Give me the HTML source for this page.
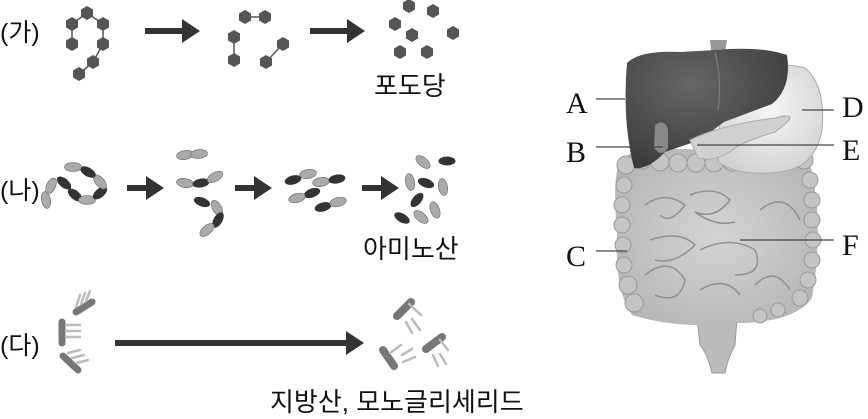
<!DOCTYPE html>
<html><head><meta charset="utf-8"><style>
html,body{margin:0;padding:0;background:#fff;}
svg{display:block;}
.k{font-family:"Liberation Sans","Noto Sans CJK KR",sans-serif;fill:#111;}
.s{font-family:"Liberation Serif",serif;fill:#111;font-size:30px;}
</style></head><body>
<svg width="868" height="419" viewBox="0 0 868 419" xmlns="http://www.w3.org/2000/svg">
<defs>
<polygon id="h" points="0,-7 6,-3.5 6,3.5 0,7 -6,3.5 -6,-3.5" fill="#555"/>
<ellipse id="el" rx="8.5" ry="4.5" fill="#aaa" stroke="#666" stroke-width="0.6"/>
<ellipse id="ed" rx="8.5" ry="4.5" fill="#333"/>
<marker id="ar" markerWidth="4" markerHeight="4" refX="1" refY="2" orient="auto" markerUnits="strokeWidth"><path d="M0,0 L3,2 L0,4Z" fill="#333"/></marker>
<radialGradient id="lv" cx="0.4" cy="0.3" r="0.8"><stop offset="0" stop-color="#666"/><stop offset="1" stop-color="#383838"/></radialGradient>
<radialGradient id="st" cx="0.5" cy="0.4" r="0.7"><stop offset="0" stop-color="#f6f6f6"/><stop offset="1" stop-color="#cfcfcf"/></radialGradient>
<radialGradient id="in" cx="0.5" cy="0.5" r="0.7"><stop offset="0" stop-color="#d4d4d4"/><stop offset="1" stop-color="#b0b0b0"/></radialGradient>
</defs>

<!-- (가) -->
<text class="k" x="0" y="41" font-size="25">(가)</text>
<g stroke="#555" stroke-width="1.5">
<line x1="87" y1="13" x2="72" y2="24"/><line x1="87" y1="13" x2="103" y2="24"/>
<line x1="72" y1="24" x2="72" y2="44"/><line x1="103" y1="24" x2="103" y2="44"/>
<line x1="103" y1="44" x2="93" y2="62"/><line x1="93" y1="62" x2="79" y2="74"/>
<line x1="245" y1="17" x2="265" y2="17"/><line x1="234" y1="37" x2="234" y2="60"/>
<line x1="283" y1="44" x2="266" y2="62"/>
</g>
<use href="#h" x="87" y="13"/><use href="#h" x="72" y="24"/><use href="#h" x="103" y="24"/>
<use href="#h" x="72" y="44"/><use href="#h" x="103" y="44"/><use href="#h" x="93" y="62"/><use href="#h" x="79" y="74"/>
<use href="#h" x="245" y="17"/><use href="#h" x="265" y="17"/><use href="#h" x="234" y="37"/><use href="#h" x="234" y="60"/>
<use href="#h" x="283" y="44"/><use href="#h" x="266" y="62"/>
<use href="#h" x="409" y="6"/><use href="#h" x="433" y="11"/><use href="#h" x="395" y="24"/><use href="#h" x="412" y="35"/>
<use href="#h" x="453" y="33"/><use href="#h" x="400" y="52"/><use href="#h" x="427" y="52"/>
<line x1="145" y1="31" x2="188" y2="31" stroke="#333" stroke-width="6" marker-end="url(#ar)"/>
<line x1="310" y1="31" x2="353" y2="31" stroke="#333" stroke-width="6" marker-end="url(#ar)"/>
<text class="k" x="374" y="95" font-size="26">포도당</text>

<!-- (나) -->
<text class="k" x="0" y="199" font-size="25">(나)</text>
<use href="#el" transform="translate(46,200) rotate(80)"/>
<use href="#el" transform="translate(51,186) rotate(-65)"/>
<use href="#ed" transform="translate(64,183) rotate(40)"/>
<use href="#ed" transform="translate(75,195) rotate(40)"/>
<use href="#el" transform="translate(87,200)"/>
<use href="#ed" transform="translate(100,193) rotate(-40)"/>
<use href="#el" transform="translate(100,182) rotate(50)"/>
<use href="#ed" transform="translate(88,172) rotate(30)"/>
<use href="#el" transform="translate(73,167)"/>
<line x1="127" y1="188" x2="152" y2="188" stroke="#333" stroke-width="6" marker-end="url(#ar)"/>
<use href="#el" transform="translate(185,155) rotate(-10)"/>
<use href="#el" transform="translate(199,154) rotate(-5)"/>
<use href="#el" transform="translate(185,183) rotate(10)"/>
<use href="#ed" transform="translate(201,183) rotate(-10)"/>
<use href="#el" transform="translate(215,177) rotate(-30)"/>
<use href="#ed" transform="translate(202,202) rotate(20)"/>
<use href="#el" transform="translate(217,208) rotate(60)"/>
<use href="#ed" transform="translate(218,220) rotate(-60)"/>
<use href="#el" transform="translate(207,230) rotate(-40)"/>
<line x1="235" y1="188" x2="260" y2="188" stroke="#333" stroke-width="6" marker-end="url(#ar)"/>
<use href="#ed" transform="translate(293,180) rotate(-15)"/>
<use href="#el" transform="translate(308,174) rotate(-10)"/>
<use href="#el" transform="translate(321,182) rotate(-10)"/>
<use href="#ed" transform="translate(337,179) rotate(-10)"/>
<use href="#ed" transform="translate(312,193) rotate(-20)"/>
<use href="#el" transform="translate(297,198) rotate(-15)"/>
<use href="#ed" transform="translate(323,207) rotate(-15)"/>
<use href="#el" transform="translate(338,202) rotate(-15)"/>
<line x1="362" y1="188" x2="387" y2="188" stroke="#333" stroke-width="6" marker-end="url(#ar)"/>
<use href="#el" transform="translate(423,162) rotate(40)"/>
<use href="#ed" transform="translate(447,161)"/>
<use href="#el" transform="translate(410,182) rotate(80)"/>
<use href="#ed" transform="translate(426,183) rotate(20)"/>
<use href="#el" transform="translate(443,187) rotate(80)"/>
<use href="#ed" transform="translate(417,200) rotate(-50)"/>
<use href="#el" transform="translate(435,210) rotate(70)"/>
<use href="#ed" transform="translate(402,218) rotate(30)"/>
<use href="#el" transform="translate(421,217) rotate(40)"/>
<text class="k" x="363" y="258" font-size="26">아미노산</text>

<!-- (다) -->
<text class="k" x="0" y="354" font-size="25">(다)</text>
<g stroke-linecap="round">
<line x1="62" y1="322" x2="62" y2="343" stroke="#777" stroke-width="7"/>
<g stroke="#bbb" stroke-width="2.5"><line x1="66" y1="325" x2="80" y2="325"/><line x1="66" y1="331" x2="80" y2="331"/><line x1="66" y1="337" x2="80" y2="337"/></g>
<line x1="76" y1="312" x2="92" y2="302" stroke="#777" stroke-width="7"/>
<g stroke="#bbb" stroke-width="2.5"><line x1="76" y1="307" x2="80" y2="295"/><line x1="81" y1="304" x2="85" y2="293"/><line x1="86" y1="301" x2="90" y2="291"/></g>
<line x1="63" y1="356" x2="78" y2="370" stroke="#777" stroke-width="7"/>
<g stroke="#bbb" stroke-width="2.5"><line x1="68" y1="353" x2="80" y2="350"/><line x1="72" y1="358" x2="84" y2="355"/><line x1="77" y1="363" x2="88" y2="360"/></g>
<line x1="397" y1="316" x2="411" y2="302" stroke="#777" stroke-width="8"/>
<g stroke="#bbb" stroke-width="2.5"><line x1="409" y1="304" x2="421" y2="315"/><line x1="406" y1="322" x2="412" y2="333"/><line x1="412" y1="319" x2="420" y2="330"/></g>
<line x1="383" y1="350" x2="394" y2="366" stroke="#777" stroke-width="8"/>
<g stroke="#bbb" stroke-width="2.5"><line x1="390" y1="353" x2="401" y2="345"/><line x1="402" y1="355" x2="412" y2="349"/><line x1="403" y1="362" x2="415" y2="357"/></g>
<line x1="426" y1="349" x2="442" y2="337" stroke="#777" stroke-width="8"/>
<g stroke="#bbb" stroke-width="2.5"><line x1="440" y1="340" x2="448" y2="350"/><line x1="433" y1="355" x2="438" y2="366"/><line x1="440" y1="354" x2="446" y2="364"/></g>
</g>
<line x1="115" y1="343" x2="352" y2="343" stroke="#333" stroke-width="6" marker-end="url(#ar)"/>
<text class="k" x="270" y="411" font-size="26">지방산, 모노글리세리드</text>

<!-- organs -->
<path d="M710,40 L727,40 L724,60 L712,60Z" fill="#999"/>
<path d="M697,318 Q717,310 737,318 L735,345 Q727,360 725,373 L712,373 Q708,355 700,345Z" fill="#bbb" stroke="#999"/>
<path d="M620,160 Q612,180 617,230 Q614,290 632,315 Q680,330 740,323 Q795,322 812,298 Q822,240 815,190 Q815,162 795,152 L640,148Z" fill="url(#in)"/>
<g fill="#c4c4c4" stroke="#999" stroke-width="1">
<circle cx="626" cy="165" r="9"/><circle cx="642" cy="160" r="9"/><circle cx="660" cy="162" r="9"/><circle cx="678" cy="163" r="9"/><circle cx="696" cy="163" r="9"/><circle cx="714" cy="163" r="9"/><circle cx="732" cy="162" r="9"/><circle cx="750" cy="160" r="9"/><circle cx="768" cy="157" r="9"/><circle cx="786" cy="155" r="9"/><circle cx="804" cy="160" r="9"/>
<circle cx="624" cy="185" r="8"/><circle cx="622" cy="205" r="8"/><circle cx="622" cy="225" r="8"/><circle cx="623" cy="245" r="8"/><circle cx="624" cy="265" r="8"/><circle cx="628" cy="285" r="9"/><circle cx="634" cy="303" r="9"/>
<circle cx="810" cy="180" r="8"/><circle cx="812" cy="200" r="8"/><circle cx="812" cy="220" r="8"/><circle cx="813" cy="240" r="8"/><circle cx="812" cy="260" r="8"/><circle cx="808" cy="280" r="8"/><circle cx="800" cy="298" r="8"/>
<circle cx="760" cy="316" r="7"/><circle cx="778" cy="310" r="7"/>
</g>
<g fill="none" stroke="#909090" stroke-width="1.5">
<path d="M645,205 q20,-15 40,0 q-15,20 -25,10 M690,195 q25,-10 40,5 q-15,20 -35,12 q20,15 40,10 M650,240 q30,-10 45,5 q-20,20 -40,15 M700,250 q30,-15 55,0 q10,25 -20,25 M645,275 q25,-20 40,5 q-5,25 -30,15 M700,290 q25,-15 40,5 M755,285 q20,-20 35,5 M760,210 q25,-20 40,10"/>
</g>
<path d="M725,85 Q770,58 805,68 Q826,85 822,130 Q815,168 780,172 Q740,177 718,162 L720,100Z" fill="url(#st)" stroke="#aaa"/>
<path d="M627,63 Q640,50 680,52 L716,50 Q760,46 787,55 Q792,88 772,104 Q745,114 724,122 L700,140 L665,152 Q648,170 634,168 Q622,120 627,63Z" fill="url(#lv)"/>
<path d="M715,52 Q722,80 718,110" fill="none" stroke="#777" stroke-width="1.5"/>
<path d="M655,125 Q665,118 668,130 L668,148 Q662,158 654,148Z" fill="#888"/>
<path d="M690,140 Q720,125 775,118 Q805,110 775,132 Q740,142 730,152 Q712,162 698,158Z" fill="#d0d0d0" stroke="#aaa"/>
<g stroke="#444" stroke-width="1.2">
<line x1="596" y1="99" x2="625" y2="99"/><line x1="596" y1="147" x2="663" y2="147"/>
<line x1="596" y1="251" x2="627" y2="251"/><line x1="802" y1="110" x2="834" y2="110"/>
<line x1="697" y1="145" x2="834" y2="145"/><line x1="740" y1="240" x2="834" y2="240"/>
</g>
<text class="s" x="566" y="113">A</text>
<text class="s" x="566" y="162">B</text>
<text class="s" x="566" y="266">C</text>
<text class="s" x="842" y="117">D</text>
<text class="s" x="842" y="160">E</text>
<text class="s" x="842" y="255">F</text>
</svg>
</body></html>
